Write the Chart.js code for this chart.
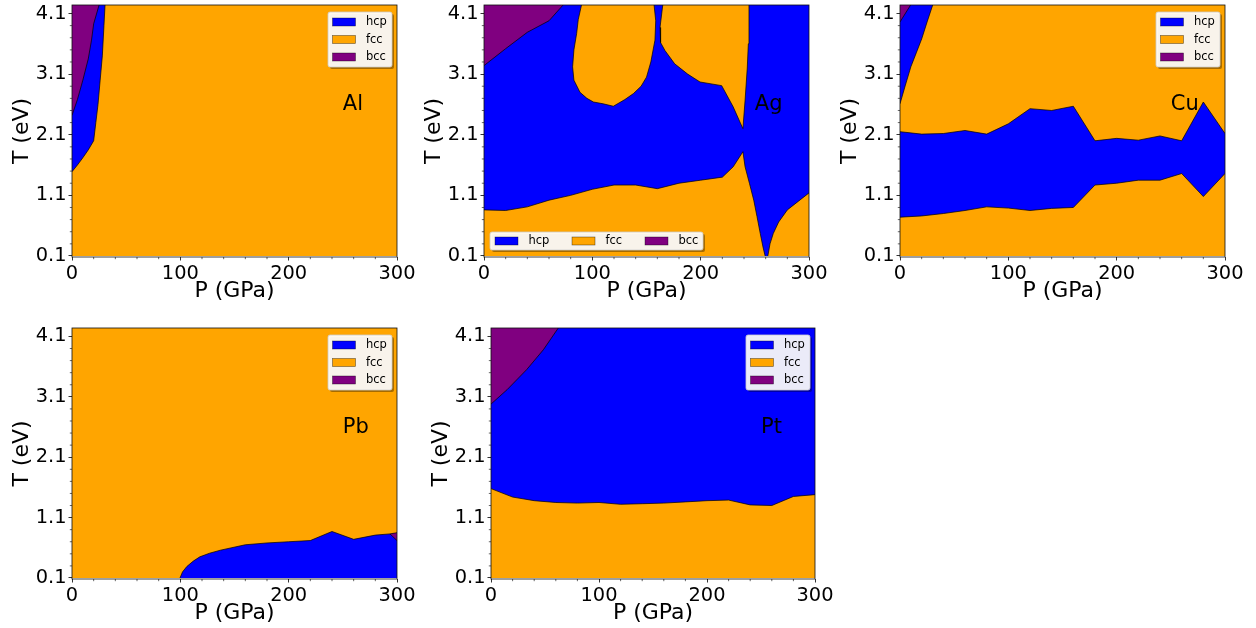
<!DOCTYPE html>
<html>
<head>
<meta charset="utf-8">
<title>Phase diagrams</title>
<script src="https://cdn.jsdelivr.net/npm/chart.js@4.4.0/dist/chart.umd.min.js"></script>
<style>
    html, body { margin: 0; padding: 0; background: #ffffff; }
    #wrap { position: relative; width: 1256px; height: 628px; }
    #wrap canvas { position: absolute; left: 0; top: 0; }
</style>
</head>
<body>
<div id="wrap">
    <canvas id="alChart" width="1256" height="628"></canvas>
    <canvas id="agChart" width="1256" height="628"></canvas>
    <canvas id="cuChart" width="1256" height="628"></canvas>
    <canvas id="pbChart" width="1256" height="628"></canvas>
    <canvas id="ptChart" width="1256" height="628"></canvas>
</div>
<script>
// Axis ranges and ticks shared by every panel
var P_MIN = 0, P_MAX = 300;
var T_MIN = 0.083, T_MAX = 4.24;
var T_BOT = 0.1, T_TOP = 4.24;
var P_MAJOR = [0, 100, 200, 300];
var P_MINOR = [20, 40, 60, 80, 120, 140, 160, 180, 220, 240, 260, 280];
var T_MAJOR = [0.1, 1.1, 2.1, 3.1, 4.1];
var T_MINOR = [0.3, 0.5, 0.7, 0.9, 1.3, 1.5, 1.7, 1.9, 2.3, 2.5, 2.7, 2.9, 3.3, 3.5, 3.7, 3.9];

var PHASES = ['hcp', 'fcc', 'bcc'];
var PHASE_COLORS = ['#0000ff', '#ffa500', '#800080'];
var LABEL_P = 250, LABEL_T = 2.5;

// Phase boundaries, [P (GPa), T (eV)]
// Al
var alHcpEdge = [[0, 1.49], [5, 1.6], [10, 1.72], [15, 1.85], [20, 2.0], [22, 2.3], [24, 2.6], [26, 3.0], [28, 3.4], [29.5, 3.9], [30.5, 4.24]];
var alBccEdge = [[0, 2.42], [5, 2.68], [10, 3.0], [15, 3.35], [18, 3.66], [20, 3.93], [25, 4.24]];

// Ag
var agBccEdge = [[0, 3.24], [20, 3.52], [40, 3.79], [60, 3.98], [73, 4.24]];
var agLowEdge = [[0, 0.86], [20, 0.85], [40, 0.91], [60, 1.02], [80, 1.1], [100, 1.2], [120, 1.27], [140, 1.27],
    [160, 1.21], [180, 1.3], [200, 1.35], [220, 1.4], [230, 1.57], [239, 1.82],
    [241, 1.57], [245, 1.3], [249, 1.02], [252, 0.75], [255, 0.47], [257.5, 0.25], [259.5, 0.1]];
var agRightEdge = [[262, 0.1], [264, 0.3], [267, 0.47], [272, 0.66], [280, 0.86], [290, 1.0], [300, 1.14]];
var agTongueA = [[90, 4.24], [87, 4.0], [85.5, 3.77], [83, 3.5], [81.8, 3.22], [83, 3.0], [88.6, 2.8], [95, 2.7],
    [101, 2.64], [110, 2.61], [119.4, 2.57], [130, 2.68], [138, 2.78], [145, 2.9], [150, 3.05], [154, 3.3],
    [157.8, 3.66], [158.5, 3.98], [157, 4.24]];
var agTongueB = [[165, 4.24], [162.5, 3.87], [163, 3.62], [167, 3.49], [176, 3.27], [188, 3.1], [199.4, 2.97],
    [219.4, 2.91], [230, 2.56], [239, 2.2], [241, 2.67], [243, 3.2], [244, 3.6], [244.6, 4.24]];

// Cu
var cuBandTop = [[0, 2.15], [20, 2.11], [40, 2.12], [60, 2.17], [80, 2.11], [100, 2.28], [120, 2.53], [140, 2.5],
    [160, 2.57], [180, 2.0], [200, 2.04], [220, 2.01], [240, 2.08], [260, 2.0], [280, 2.64], [300, 2.12]];
var cuBandLow = [[0, 0.74], [20, 0.76], [40, 0.8], [60, 0.85], [80, 0.91], [100, 0.89], [120, 0.85], [140, 0.885],
    [160, 0.9], [180, 1.27], [200, 1.3], [220, 1.35], [240, 1.35], [260, 1.46], [280, 1.08], [300, 1.46]];
var cuHcpEdge = [[0, 2.61], [5, 2.92], [10, 3.22], [15, 3.45], [20, 3.68], [25, 3.96], [30.2, 4.24]];
var cuBccEdge = [[0, 3.96], [9.8, 4.24]];

// Pb
var pbHcpEdge = [[99.7, 0.1], [102, 0.2], [106, 0.29], [112, 0.38], [118, 0.45], [127, 0.51], [137, 0.56],
    [160, 0.65], [180, 0.68], [200, 0.7], [220, 0.72], [240, 0.87], [260, 0.74], [280, 0.81], [293.5, 0.83], [300, 0.85]];
var pbBccEdge = [[293.5, 0.83], [300, 0.72]];

// Pt
var ptFccEdge = [[0, 1.58], [20, 1.44], [40, 1.38], [60, 1.35], [80, 1.34], [100, 1.35], [120, 1.32], [140, 1.33],
    [160, 1.34], [180, 1.36], [200, 1.38], [220, 1.39], [240, 1.31], [260, 1.3], [280, 1.45], [300, 1.48]];
var ptBccEdge = [[0, 2.98], [15, 3.22], [33, 3.55], [48.5, 3.88], [62.3, 4.24]];

var FONT = 'DejaVu Sans';
var Y_AXIS_W = 63;
var X_AXIS_H = 47;

Chart.defaults.font.family = FONT;

function frame() {
    return [[P_MIN, T_BOT], [P_MAX, T_BOT], [P_MAX, T_TOP], [P_MIN, T_TOP]];
}

function toXY(pts) {
    return pts.map(function (p) { return {x: p[0], y: p[1]}; });
}

function phaseColor(name) {
    return PHASE_COLORS[PHASES.indexOf(name)];
}

function boxPath(ctx, x, y, w, h, r) {
    ctx.beginPath();
    ctx.moveTo(x + r, y);
    ctx.lineTo(x + w - r, y);
    ctx.arcTo(x + w, y, x + w, y + r, r);
    ctx.lineTo(x + w, y + h - r);
    ctx.arcTo(x + w, y + h, x + w - r, y + h, r);
    ctx.lineTo(x + r, y + h);
    ctx.arcTo(x, y + h, x, y + h - r, r);
    ctx.lineTo(x, y + r);
    ctx.arcTo(x, y, x + r, y, r);
    ctx.closePath();
}

function drawLegend(ctx, a, mode) {
    var box, items = [];
    if (mode === 'lower left') {
        box = {x: a.left + 6, y: a.bottom - 25, w: 213, h: 18};
        var offs = [5, 82, 155];
        PHASES.forEach(function (ph, i) {
            items.push({ph: ph, x: box.x + offs[i], y: box.y + 9});
        });
    } else {
        box = {x: a.right - 69, y: a.top + 7, w: 64, h: 55};
        PHASES.forEach(function (ph, i) {
            items.push({ph: ph, x: box.x + 4.5, y: box.y + 10 + i * 17.5});
        });
    }
    // shadow, then the white frame
    ctx.fillStyle = 'rgba(0,0,0,0.35)';
    boxPath(ctx, box.x + 2, box.y + 2, box.w, box.h, 2);
    ctx.fill();
    ctx.fillStyle = 'rgba(255,255,255,0.92)';
    ctx.strokeStyle = '#cccccc';
    ctx.lineWidth = 0.8;
    boxPath(ctx, box.x, box.y, box.w, box.h, 2);
    ctx.fill();
    ctx.stroke();

    ctx.font = '11.5px "' + FONT + '"';
    ctx.textAlign = 'left';
    ctx.textBaseline = 'middle';
    items.forEach(function (it) {
        ctx.fillStyle = phaseColor(it.ph);
        ctx.fillRect(it.x, it.y - 4, 23, 8);
        ctx.strokeStyle = 'rgba(0,0,0,0.6)';
        ctx.lineWidth = 0.6;
        ctx.strokeRect(it.x, it.y - 4, 23, 8);
        ctx.fillStyle = '#000';
        ctx.fillText(it.ph, it.x + 33.5, it.y + 0.5);
    });
}

// minor ticks, frame, element name and legend
var panelDecor = {
    id: 'panelDecor',
    afterDraw: function (chart, args, opts) {
        var ctx = chart.ctx;
        var a = chart.chartArea;
        var xs = chart.scales.x, ys = chart.scales.y;
        ctx.save();
        ctx.strokeStyle = '#000';
        ctx.lineWidth = 0.6;
        ctx.beginPath();
        P_MINOR.forEach(function (v) {
            var px = xs.getPixelForValue(v);
            ctx.moveTo(px, a.bottom);
            ctx.lineTo(px, a.bottom + 2.2);
        });
        T_MINOR.forEach(function (v) {
            var py = ys.getPixelForValue(v);
            ctx.moveTo(a.left, py);
            ctx.lineTo(a.left - 2.2, py);
        });
        ctx.stroke();

        ctx.lineWidth = 0.8;
        ctx.strokeStyle = '#111';
        ctx.strokeRect(a.left, a.top, a.right - a.left, a.bottom - a.top);

        ctx.fillStyle = '#000';
        ctx.font = '21px "' + FONT + '"';
        ctx.textAlign = 'left';
        ctx.textBaseline = 'alphabetic';
        ctx.fillText(opts.name, xs.getPixelForValue(LABEL_P), ys.getPixelForValue(LABEL_T));

        drawLegend(ctx, a, opts.legend);
        ctx.restore();
    }
};

function makeChart(id, area, name, regions, edges, legendPos) {
    var datasets = [];
    regions.forEach(function (r) {
        datasets.push({
            data: toXY(r.pts),
            fill: 'shape',
            backgroundColor: phaseColor(r.phase),
            borderColor: 'transparent',
            borderWidth: 0,
            pointRadius: 0,
            tension: 0
        });
    });
    edges.forEach(function (e) {
        datasets.push({
            data: toXY(e),
            fill: false,
            borderColor: '#000',
            borderWidth: 0.7,
            pointRadius: 0,
            tension: 0
        });
    });
    // Chart.js paints higher `order` first, so later entries land on top
    datasets.forEach(function (ds, i) { ds.order = datasets.length - i; });

    return new Chart(document.getElementById(id), {
        type: 'line',
        data: {datasets: datasets},
        plugins: [panelDecor],
        options: {
            responsive: false,
            maintainAspectRatio: false,
            animation: false,
            events: [],
            layout: {
                padding: {
                    left: area.left - Y_AXIS_W,
                    top: area.top,
                    right: 1256 - area.right,
                    bottom: 628 - area.bottom - X_AXIS_H
                }
            },
            plugins: {
                legend: {display: false},
                tooltip: {enabled: false},
                panelDecor: {name: name, legend: legendPos}
            },
            scales: {
                x: {
                    type: 'linear',
                    min: P_MIN,
                    max: P_MAX,
                    afterBuildTicks: function (s) {
                        s.ticks = P_MAJOR.map(function (v) { return {value: v}; });
                    },
                    afterFit: function (s) {
                        s.height = X_AXIS_H;
                        s.paddingLeft = 0;
                        s.paddingRight = 0;
                    },
                    ticks: {
                        autoSkip: false,
                        maxRotation: 0,
                        padding: 2,
                        color: '#000',
                        font: {size: 19.4},
                        callback: function (v) { return String(v); }
                    },
                    grid: {drawOnChartArea: false, tickLength: 3.5, tickWidth: 0.8, tickColor: '#000'},
                    border: {display: false},
                    title: {display: true, text: 'P (GPa)', color: '#000', font: {size: 22}, padding: 0}
                },
                y: {
                    type: 'linear',
                    min: T_MIN,
                    max: T_MAX,
                    afterBuildTicks: function (s) {
                        s.ticks = T_MAJOR.map(function (v) { return {value: v}; });
                    },
                    afterFit: function (s) {
                        s.width = Y_AXIS_W;
                        s.paddingTop = 0;
                        s.paddingBottom = 0;
                    },
                    ticks: {
                        autoSkip: false,
                        padding: 2,
                        color: '#000',
                        font: {size: 19.4},
                        callback: function (v) { return v.toFixed(1); }
                    },
                    grid: {drawOnChartArea: false, tickLength: 3.5, tickWidth: 0.8, tickColor: '#000'},
                    border: {display: false},
                    title: {display: true, text: 'T (eV)', color: '#000', font: {size: 22}, padding: 0}
                }
            }
        }
    });
}

// Al: fcc everywhere except the low-pressure, high-T corner
var alChart = makeChart('alChart', {left: 72, top: 5, right: 397, bottom: 257}, 'Al', [
    {phase: 'fcc', pts: frame()},
    {phase: 'hcp', pts: alHcpEdge.concat([[P_MIN, T_TOP]])},
    {phase: 'bcc', pts: alBccEdge.concat([[P_MIN, T_TOP]])}
], [alHcpEdge, alBccEdge], 'upper right');

// Ag: hcp background with fcc pockets
var agChart = makeChart('agChart', {left: 484, top: 5, right: 809, bottom: 257}, 'Ag', [
    {phase: 'hcp', pts: frame()},
    {phase: 'bcc', pts: agBccEdge.concat([[P_MIN, T_TOP]])},
    {phase: 'fcc', pts: agLowEdge.concat([[P_MIN, T_BOT]])},
    {phase: 'fcc', pts: agRightEdge.concat([[P_MAX, T_BOT]])},
    {phase: 'fcc', pts: agTongueA},
    {phase: 'fcc', pts: agTongueB}
], [agBccEdge, agLowEdge, agRightEdge, agTongueA, agTongueB], 'lower left');

// Cu: hcp band across the whole pressure range
var cuChart = makeChart('cuChart', {left: 900, top: 5, right: 1225, bottom: 257}, 'Cu', [
    {phase: 'fcc', pts: frame()},
    {phase: 'hcp', pts: cuBandTop.concat(cuBandLow.slice().reverse())},
    {phase: 'hcp', pts: cuHcpEdge.concat([[P_MIN, T_TOP]])},
    {phase: 'bcc', pts: cuBccEdge.concat([[P_MIN, T_TOP]])}
], [cuBandTop, cuBandLow, cuHcpEdge, cuBccEdge], 'upper right');

// Pb
var pbChart = makeChart('pbChart', {left: 72, top: 328, right: 397, bottom: 579}, 'Pb', [
    {phase: 'fcc', pts: frame()},
    {phase: 'hcp', pts: pbHcpEdge.concat([[P_MAX, T_BOT]])},
    {phase: 'bcc', pts: pbBccEdge.concat([[P_MAX, 0.85]])}
], [pbHcpEdge, pbBccEdge], 'upper right');

// Pt
var ptChart = makeChart('ptChart', {left: 491, top: 328, right: 815, bottom: 579}, 'Pt', [
    {phase: 'hcp', pts: frame()},
    {phase: 'fcc', pts: ptFccEdge.concat([[P_MAX, T_BOT], [P_MIN, T_BOT]])},
    {phase: 'bcc', pts: ptBccEdge.concat([[P_MIN, T_TOP]])}
], [ptFccEdge, ptBccEdge], 'upper right');
</script>
</body>
</html>
